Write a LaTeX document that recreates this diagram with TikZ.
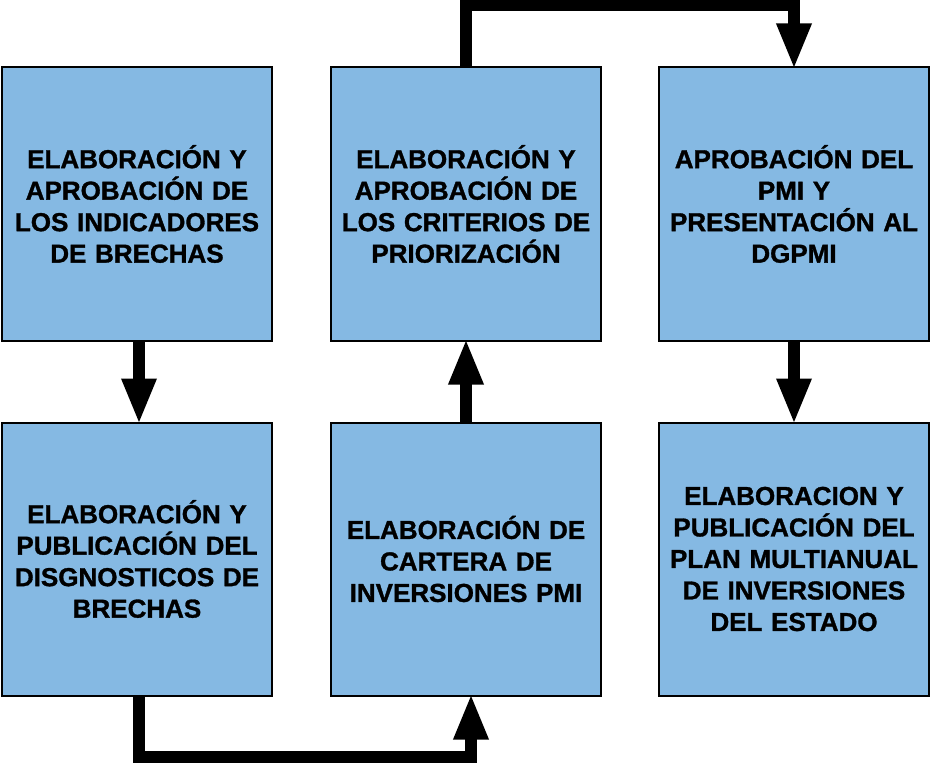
\documentclass[tikz,border=0pt]{standalone}
\usepackage{fontspec}
\setmainfont{Liberation Sans}[BoldFeatures={FakeBold=1.2}]
\usetikzlibrary{arrows.meta}
\definecolor{boxblue}{HTML}{85B9E3}

\begin{document}
\begin{tikzpicture}[x=1pt,y=-1pt,
    paso/.style={draw=black, line width=2pt, fill=boxblue, minimum width=270pt, minimum height=273pt, text width=266pt, align=center, inner sep=0pt, font=\fontsize{26}{31.5}\selectfont\bfseries},
    flujo/.style={line width=12pt, shorten >=-3pt, -{Triangle[width=32pt,length=46pt]}}]
\useasboundingbox (0,0) rectangle (930,765);
\node[paso] (b1) at (137,204) {ELABORACIÓN Y\\APROBACIÓN DE\\LOS INDICADORES\\DE BRECHAS};
\node[paso] (b2) at (466,204) {ELABORACIÓN Y\\APROBACIÓN DE\\LOS CRITERIOS DE\\PRIORIZACIÓN};
\node[paso] (b3) at (794,204) {APROBACIÓN DEL\\PMI Y\\PRESENTACIÓN AL\\DGPMI};
\node[paso] (b4) at (137,559) {ELABORACIÓN Y\\PUBLICACIÓN DEL\\DISGNOSTICOS DE\\BRECHAS};
\node[paso] (b5) at (466,559) {ELABORACIÓN DE\\CARTERA DE\\INVERSIONES PMI};
\node[paso] (b6) at (794,559) {ELABORACION Y\\PUBLICACIÓN DEL\\PLAN MULTIANUAL\\DE INVERSIONES\\DEL ESTADO};
% conexiones
\draw[flujo] ([xshift=2pt]b1.south) -- ([xshift=2pt]b4.north);
\draw[flujo] ([xshift=2pt]b4.south) -- ++(0,60) -| ([xshift=5pt]b5.south);
\draw[flujo] (b5.north) -- (b2.south);
\draw[flujo] (b2.north) -- ++(0,-61) -| (b3.north);
\draw[flujo] (b3.south) -- (b6.north);
\end{tikzpicture}
\end{document}
